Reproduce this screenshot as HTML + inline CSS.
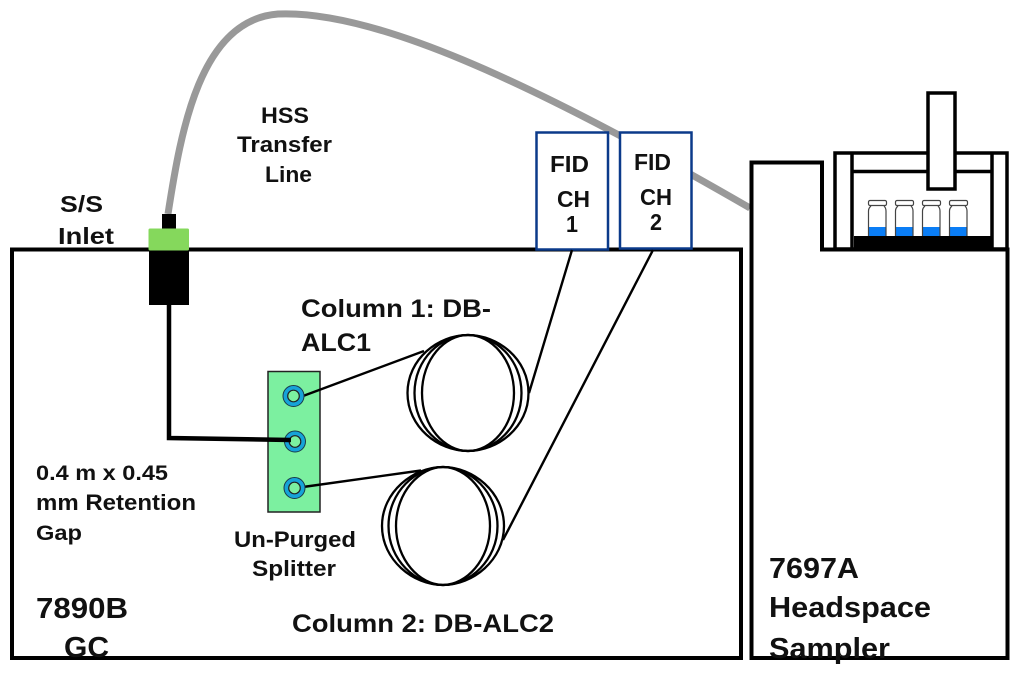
<!DOCTYPE html>
<html>
<head>
<meta charset="utf-8">
<style>
html,body{margin:0;padding:0;background:#fff;}
svg{display:block;}
text{font-family:"Liberation Sans",sans-serif;font-weight:bold;fill:#111;}
</style>
</head>
<body>
<svg width="1024" height="674" viewBox="0 0 1024 674" xmlns="http://www.w3.org/2000/svg">
<rect width="1024" height="674" fill="#fff"/>
<path d="M168 214 C181 130 200 20 278 14 C370 10 520 75 750 208" fill="none" stroke="#999" stroke-width="7"/>
<rect x="12" y="249.500" width="729" height="408.500" fill="none" stroke="#000" stroke-width="4"/>
<path d="M751.500 162.500 H822 V249.500 H1007.500 V658 H751.500 Z" fill="#fff" stroke="#000" stroke-width="4"/>
<rect x="835" y="153" width="172" height="96" fill="#fff" stroke="#000" stroke-width="3.500"/>
<path d="M852 153 V249 M992 153 V249 M852 171.500 H992" fill="none" stroke="#000" stroke-width="3.500"/>
<rect x="854" y="236" width="137" height="14" fill="#000"/>
<g>
<g><rect x="868.500" y="227" width="17.500" height="9" fill="#0a7df5"/><path d="M871 206 Q868.500 208 868.500 211 V236 M884 206 Q886 208 886 211 V236" fill="none" stroke="#444" stroke-width="1.200"/><rect x="868.500" y="200.500" width="18" height="5" rx="1.500" fill="#fff" stroke="#444" stroke-width="1.200"/></g>
<g transform="translate(27,0)"><rect x="868.500" y="227" width="17.500" height="9" fill="#0a7df5"/><path d="M871 206 Q868.500 208 868.500 211 V236 M884 206 Q886 208 886 211 V236" fill="none" stroke="#444" stroke-width="1.200"/><rect x="868.500" y="200.500" width="18" height="5" rx="1.500" fill="#fff" stroke="#444" stroke-width="1.200"/></g>
<g transform="translate(54,0)"><rect x="868.500" y="227" width="17.500" height="9" fill="#0a7df5"/><path d="M871 206 Q868.500 208 868.500 211 V236 M884 206 Q886 208 886 211 V236" fill="none" stroke="#444" stroke-width="1.200"/><rect x="868.500" y="200.500" width="18" height="5" rx="1.500" fill="#fff" stroke="#444" stroke-width="1.200"/></g>
<g transform="translate(81,0)"><rect x="868.500" y="227" width="17.500" height="9" fill="#0a7df5"/><path d="M871 206 Q868.500 208 868.500 211 V236 M884 206 Q886 208 886 211 V236" fill="none" stroke="#444" stroke-width="1.200"/><rect x="868.500" y="200.500" width="18" height="5" rx="1.500" fill="#fff" stroke="#444" stroke-width="1.200"/></g>
</g>
<rect x="928" y="93" width="27" height="96" fill="#fff" stroke="#000" stroke-width="3.500"/>
<rect x="536.500" y="132.500" width="71.500" height="117" fill="#fff" stroke="#0b3a8a" stroke-width="2.500"/>
<rect x="620" y="132.500" width="71.500" height="116" fill="#fff" stroke="#0b3a8a" stroke-width="2.500"/>
<rect x="162" y="214" width="14" height="15" fill="#000"/>
<rect x="149" y="250" width="40" height="55" fill="#000"/>
<rect x="148.500" y="228.500" width="40.500" height="22" rx="1.500" fill="#85d85c"/>
<rect x="268" y="371.500" width="52" height="140.500" fill="#7cf0a0" stroke="#222" stroke-width="1.500"/>
<g fill="none" stroke="#000" stroke-width="2.300">
<path d="M468 335 C498 335 528.500 359 528.500 393 C528.500 427 498 451 468 451 C438 451 407.500 427 407.500 393 C407.500 359 438 335 468 335Z"/>
<path d="M468 335 C495 335 521.500 359 521.500 393 C521.500 427 495 451 468 451 C441 451 414.500 427 414.500 393 C414.500 359 441 335 468 335Z"/>
<path d="M468 335 C491 335 514 359 514 393 C514 427 491 451 468 451 C445 451 422 427 422 393 C422 359 445 335 468 335Z"/>
<path d="M443 467 C473 467 504 492 504 526 C504 560 473 585 443 585 C413 585 382 560 382 526 C382 492 413 467 443 467Z"/>
<path d="M443 467 C470 467 497.500 492 497.500 526 C497.500 560 470 585 443 585 C416 585 388.500 560 388.500 526 C388.500 492 416 467 443 467Z"/>
<path d="M443 467 C466 467 490 492 490 526 C490 560 466 585 443 585 C420 585 396 560 396 526 C396 492 420 467 443 467Z"/>
<path d="M303 396 L424 351 M303 487 L421 470.500 M529 393 L572 250 M503 540 L653 250" stroke-width="2.400"/>
</g>
<g fill="#16a3d8" stroke="#1a3a4a" stroke-width="1">
<circle cx="293.500" cy="396" r="10.500"/>
<circle cx="295" cy="441.500" r="10.500"/>
<circle cx="294.500" cy="488" r="10.500"/>
</g>
<g fill="#7cf0a0" stroke="#222" stroke-width="1.200">
<circle cx="293.500" cy="396" r="5.800"/>
<circle cx="295" cy="441.500" r="5.800"/>
<circle cx="294.500" cy="488" r="5.800"/>
</g>
<path d="M169 305 V438 L291 440" fill="none" stroke="#000" stroke-width="4.500"/>
<g>
<text x="60" y="212" font-size="23" textLength="43" lengthAdjust="spacingAndGlyphs">S/S</text>
<text x="58" y="244" font-size="23" textLength="56" lengthAdjust="spacingAndGlyphs">Inlet</text>
<text x="261" y="123" font-size="22" textLength="48" lengthAdjust="spacingAndGlyphs">HSS</text>
<text x="237" y="152" font-size="22" textLength="95" lengthAdjust="spacingAndGlyphs">Transfer</text>
<text x="265" y="182" font-size="22" textLength="47" lengthAdjust="spacingAndGlyphs">Line</text>
<text x="550" y="172" font-size="23" textLength="39" lengthAdjust="spacingAndGlyphs">FID</text>
<text x="557" y="207" font-size="23" textLength="33" lengthAdjust="spacingAndGlyphs">CH</text>
<text x="566" y="232" font-size="23" textLength="12" lengthAdjust="spacingAndGlyphs">1</text>
<text x="634" y="170" font-size="23" textLength="37" lengthAdjust="spacingAndGlyphs">FID</text>
<text x="640" y="205" font-size="23" textLength="32" lengthAdjust="spacingAndGlyphs">CH</text>
<text x="650" y="230" font-size="23" textLength="12" lengthAdjust="spacingAndGlyphs">2</text>
<text x="301" y="317" font-size="25" textLength="190" lengthAdjust="spacingAndGlyphs">Column 1: DB-</text>
<text x="301" y="351" font-size="25" textLength="70" lengthAdjust="spacingAndGlyphs">ALC1</text>
<text x="36" y="480" font-size="21" textLength="132" lengthAdjust="spacingAndGlyphs">0.4 m x 0.45</text>
<text x="36" y="510" font-size="22" textLength="160" lengthAdjust="spacingAndGlyphs">mm Retention</text>
<text x="36" y="540" font-size="21" textLength="46" lengthAdjust="spacingAndGlyphs">Gap</text>
<text x="234" y="547" font-size="22" textLength="122" lengthAdjust="spacingAndGlyphs">Un-Purged</text>
<text x="252" y="576" font-size="22" textLength="84" lengthAdjust="spacingAndGlyphs">Splitter</text>
<text x="292" y="632" font-size="25" textLength="262" lengthAdjust="spacingAndGlyphs">Column 2: DB-ALC2</text>
<text x="36" y="618" font-size="29" textLength="92" lengthAdjust="spacingAndGlyphs">7890B</text>
<text x="64" y="657" font-size="29" textLength="45" lengthAdjust="spacingAndGlyphs">GC</text>
<text x="769" y="578" font-size="29" textLength="90" lengthAdjust="spacingAndGlyphs">7697A</text>
<text x="769" y="617" font-size="29" textLength="162" lengthAdjust="spacingAndGlyphs">Headspace</text>
<text x="769" y="658" font-size="29" textLength="121" lengthAdjust="spacingAndGlyphs">Sampler</text>
</g>
</svg>
</body>
</html>
